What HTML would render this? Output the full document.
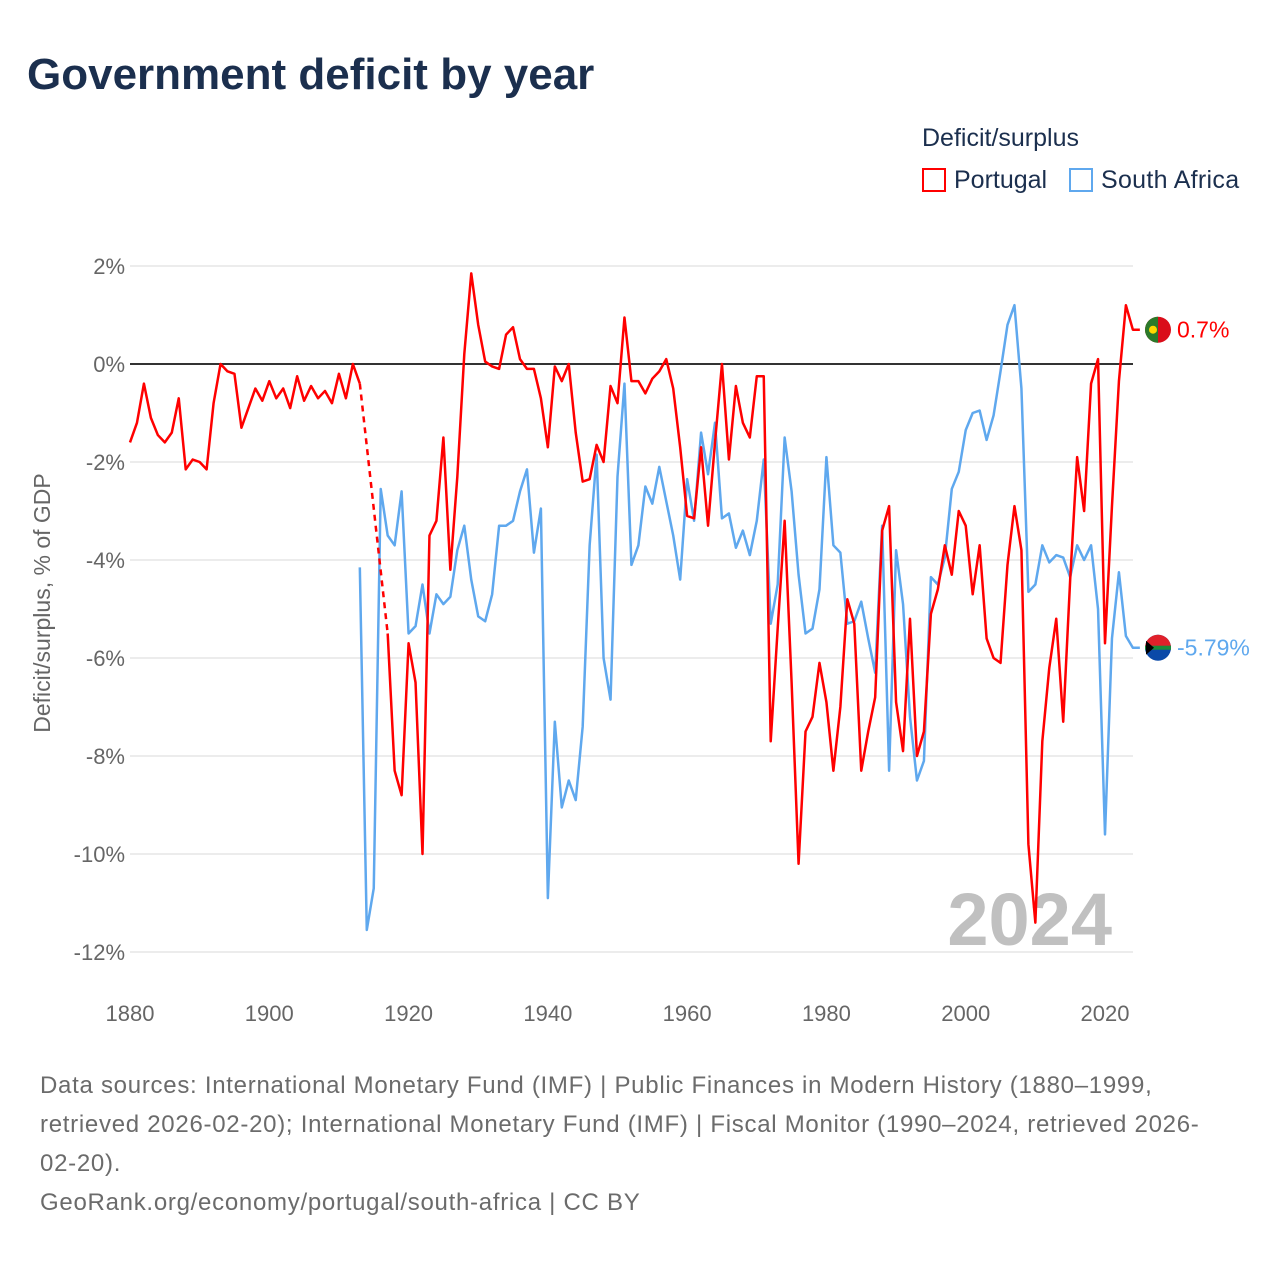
<!DOCTYPE html>
<html><head><meta charset="utf-8"><style>
body{margin:0;width:1280px;height:1280px;background:#fff;font-family:"Liberation Sans",sans-serif;overflow:hidden;position:relative}
.t{position:absolute;white-space:nowrap}
</style></head><body>
<div class="t" style="left:27px;top:50px;font-size:44px;font-weight:bold;color:#1b2f4e">Government deficit by year</div>
<div class="t" style="left:922px;top:124px;font-size:25px;color:#1b2f4e">Deficit/surplus</div>
<div class="t" style="left:922px;top:166px;font-size:25px;color:#1b2f4e"><span style="display:inline-block;width:24px;height:24px;border:2px solid #f00;box-sizing:border-box;vertical-align:-4px;margin-right:8px"></span>Portugal</div>
<div class="t" style="left:1069px;top:166px;font-size:25px;color:#1b2f4e;letter-spacing:0.3px"><span style="display:inline-block;width:24px;height:24px;border:2px solid #5fa8ee;box-sizing:border-box;vertical-align:-4px;margin-right:8px"></span>South Africa</div>
<svg id="chart" width="1280" height="1280" style="position:absolute;left:0;top:0"></svg>
<div class="t" style="left:40px;top:1066px;font-size:24px;line-height:39px;color:#6b6b6b;letter-spacing:0.72px">Data sources: International Monetary Fund (IMF) | Public Finances in Modern History (1880–1999,<br>retrieved 2026-02-20); International Monetary Fund (IMF) | Fiscal Monitor (1990–2024, retrieved 2026-<br>02-20).<br>GeoRank.org/economy/portugal/south-africa | CC BY</div>
<script>
const ptStart=1880;
const portugal=[-1.6,-1.2,-0.4,-1.1,-1.45,-1.6,-1.4,-0.7,-2.15,-1.95,-2.0,-2.15,-0.8,0.0,-0.15,-0.2,-1.3,-0.9,-0.5,-0.75,-0.35,-0.7,-0.5,-0.9,-0.25,-0.75,-0.45,-0.7,-0.55,-0.8,-0.2,-0.7,0.0,-0.4,null,null,null,
-5.5,-8.3,-8.8,-5.7,-6.5,-10.0,-3.5,-3.2,-1.5,-4.2,-2.3,0.2,1.85,0.8,0.05,-0.05,-0.1,0.6,0.75,0.1,-0.1,-0.1,-0.7,-1.7,-0.05,-0.35,0.0,-1.4,-2.4,-2.35,-1.65,-2.0,-0.45,-0.8,0.95,-0.35,-0.35,-0.6,-0.3,-0.15,0.1,-0.5,-1.7,-3.1,-3.15,-1.7,-3.3,-1.6,0.0,-1.95,-0.45,-1.2,-1.5,-0.25,-0.25,-7.7,-5.4,-3.2,-6.5,-10.2,-7.5,-7.2,-6.1,-6.9,-8.3,-7.0,-4.8,-5.3,-8.3,-7.5,-6.8,-3.4,-2.9,-6.9,-7.9,-5.2,-8.0,-7.5,-5.1,-4.6,-3.7,-4.3,-3.0,-3.3,-4.7,-3.7,-5.6,-6.0,-6.1,-4.1,-2.9,-3.8,-9.8,-11.4,-7.7,-6.2,-5.2,-7.3,-4.4,-1.9,-3.0,-0.4,0.1,-5.7,-2.9,-0.35,1.2,0.7];
const saStart=1913;
const southAfrica=[-4.15,-11.55,-10.7,-2.55,-3.5,-3.7,-2.6,-5.5,-5.35,-4.5,-5.5,-4.7,-4.9,-4.75,-3.8,-3.3,-4.4,-5.15,-5.25,-4.7,-3.3,-3.3,-3.2,-2.6,-2.15,-3.85,-2.95,-10.9,-7.3,-9.05,-8.5,-8.9,-7.4,-3.7,-1.85,-6.0,-6.85,-2.3,-0.4,-4.1,-3.7,-2.5,-2.85,-2.1,-2.8,-3.5,-4.4,-2.35,-3.2,-1.4,-2.25,-1.2,-3.15,-3.05,-3.75,-3.4,-3.9,-3.2,-1.95,-5.3,-4.5,-1.5,-2.6,-4.3,-5.5,-5.4,-4.6,-1.9,-3.7,-3.85,-5.3,-5.25,-4.85,-5.6,-6.3,-3.3,-8.3,-3.8,-4.9,-7.2,-8.5,-8.1,-4.35,-4.5,-3.95,-2.55,-2.2,-1.35,-1.0,-0.95,-1.55,-1.05,-0.15,0.8,1.2,-0.5,-4.65,-4.5,-3.7,-4.05,-3.9,-3.95,-4.35,-3.7,-4.0,-3.7,-5.0,-9.6,-5.6,-4.25,-5.55,-5.79];
const yTicks=[2,0,-2,-4,-6,-8,-10,-12];
const xTicks=[1880,1900,1920,1940,1960,1980,2000,2020];
const NS='http://www.w3.org/2000/svg';
const svg=document.getElementById('chart');
const X=y=>130+(y-1880)*975/140;
const Y=v=>364-v*49;
function mk(tag,attrs,parent){const e=document.createElementNS(NS,tag);for(const k in attrs)e.setAttribute(k,attrs[k]);(parent||svg).appendChild(e);return e;}
yTicks.forEach(v=>{
  const l=mk('line',{x1:130,x2:1133,y1:Y(v),y2:Y(v),stroke:v===0?'#333':'#e6e6e6','stroke-width':v===0?2:1.5});
  
  
  const t=mk('text',{x:125,y:Y(v)+8,'text-anchor':'end','font-size':22,fill:'#666','font-family':'Liberation Sans, sans-serif'});
  t.textContent=v+'%';
  
  
});
xTicks.forEach(yr=>{
  const t=mk('text',{x:X(yr),y:1021,'text-anchor':'middle','font-size':22,fill:'#666','font-family':'Liberation Sans, sans-serif'});
  t.textContent=yr;
  
  
});
const yt=mk('text',{x:0,y:0,transform:'translate(50,603) rotate(-90)','text-anchor':'middle','font-size':23,fill:'#666','font-family':'Liberation Sans, sans-serif'});
yt.textContent='Deficit/surplus, % of GDP';


const yr=mk('text',{x:1112,y:945,'text-anchor':'end','font-size':74,'font-weight':'bold',fill:'#c0c0c0','font-family':'Liberation Sans, sans-serif'});
yr.textContent='2024';


function drawSeries(arr,start,color,name){
  let segs=[],cur=[],gapFrom=null;
  arr.forEach((v,i)=>{
    const yy=start+i;
    if(v===null){if(cur.length){segs.push(cur);gapFrom=cur[cur.length-1];cur=[];}return;}
    const p=[X(yy),Y(v)];
    if(gapFrom&&!cur.length){
      const d=mk('path',{d:'M'+gapFrom+'L'+p,stroke:color,'stroke-width':2.5,fill:'none','stroke-dasharray':'6,5'});
      
      
      gapFrom=null;
    }
    cur.push(p);
  });
  if(cur.length){const last=cur[cur.length-1];cur.push([last[0]+7,last[1]]);segs.push(cur);}
  segs.forEach(s=>{
    const p=mk('path',{d:'M'+s.map(q=>q.join(',')).join('L'),stroke:color,'stroke-width':2.5,fill:'none','stroke-linejoin':'round'});
    
    
  });
}
drawSeries(southAfrica,saStart,'#5fa8ee','south-africa');
drawSeries(portugal,ptStart,'#ff0000','portugal');
function endLabel(v,color,name,flag){
  const cy=Y(v);
  const g=mk('g',{});
  
  
  if(flag==='pt'){
    mk('circle',{cx:1158,cy:cy,r:13,fill:'#da0d1a'},g);
    mk('path',{d:`M1158,${cy-13}A13,13 0 0 0 1158,${cy+13}Z`,fill:'#2a7a2a'},g);
    mk('circle',{cx:1153,cy:cy,r:4,fill:'#ffd700'},g);
  }else{
    mk('circle',{cx:1158,cy:cy,r:13,fill:'#0a49a8'},g);
    mk('path',{d:`M1145,${cy}A13,13 0 0 1 1171,${cy}Z`,fill:'#e0202a'},g);
    mk('rect',{x:1145,y:cy-2,width:26,height:4,fill:'#1a8a3a'},g);
    mk('path',{d:`M1146,${cy-7}L1154,${cy}L1146,${cy+7}Z`,fill:'#000'},g);
  }
  const t=mk('text',{x:1177,y:cy+8,'font-size':23,fill:color,'font-family':'Liberation Sans, sans-serif'});
  t.textContent=(Math.round(v*100)/100)+'%';
  
  
}
endLabel(portugal[portugal.length-1],'#ff0000','portugal','pt');
endLabel(southAfrica[southAfrica.length-1],'#5fa8ee','south-africa','za');
</script>
</body></html>
